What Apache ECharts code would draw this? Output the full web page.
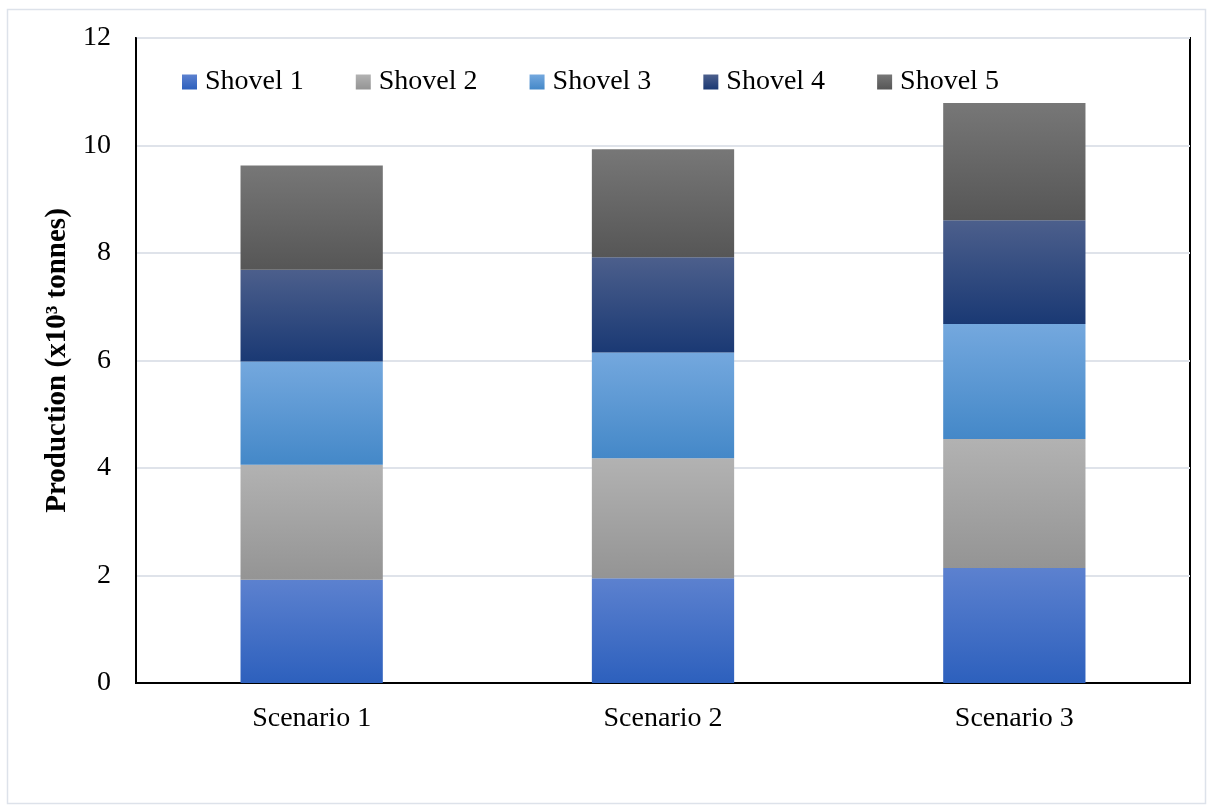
<!DOCTYPE html>
<html>
<head>
<meta charset="utf-8">
<script src="https://cdn.jsdelivr.net/npm/echarts@6/dist/echarts.min.js"></script>
<style>
  html, body { margin: 0; padding: 0; background: #fff; }
  #chart { width: 1212px; height: 810px; }
</style>
</head>
<body>
<div id="chart"></div>
<script>
// Production per shovel (x10^3 tonnes) for each scenario
const scenarios = ['Scenario 1', 'Scenario 2', 'Scenario 3'];
const shovel1 = [1.92, 1.95, 2.14];
const shovel2 = [2.14, 2.23, 2.40];
const shovel3 = [1.92, 1.97, 2.14];
const shovel4 = [1.71, 1.77, 1.93];
const shovel5 = [1.94, 2.01, 2.18];
const seriesNames = ['Shovel 1', 'Shovel 2', 'Shovel 3', 'Shovel 4', 'Shovel 5'];
const seriesValues = [shovel1, shovel2, shovel3, shovel4, shovel5];

// top -> bottom gradient stops per shovel
const fills = [
  ['#5c81cf', '#2d60bd'],
  ['#b2b2b2', '#949494'],
  ['#74a8de', '#4488c8'],
  ['#4c5f8c', '#1a3974'],
  ['#777777', '#565656']
];

const serif = '"Liberation Serif", "DejaVu Serif", serif';

function grad(c) {
  return {
    type: 'linear', x: 0, y: 0, x2: 0, y2: 1,
    colorStops: [{ offset: 0, color: c[0] }, { offset: 1, color: c[1] }]
  };
}

const chart = echarts.init(document.getElementById('chart'));
chart.setOption({
  backgroundColor: '#fff',
  animation: false,
  graphic: [{
    type: 'rect',
    shape: { x: 7.5, y: 9.5, width: 1198, height: 794 },
    style: { fill: 'none', stroke: '#dde2ea', lineWidth: 1.5 },
    z: -1
  }],
  grid: {
    left: 136, right: 22, top: 38, bottom: 127,
    show: true, borderColor: '#000', borderWidth: 2, backgroundColor: 'transparent'
  },
  legend: {
    left: 182, top: 68, padding: 0,
    itemWidth: 15, itemHeight: 15, itemGap: 52,
    icon: 'rect',
    textStyle: { fontFamily: serif, fontSize: 28, color: '#000', padding: [0, 0, 0, 3] },
    data: seriesNames
  },
  xAxis: {
    type: 'category',
    data: scenarios,
    axisLine: { lineStyle: { color: '#000', width: 2 } },
    axisTick: { show: false },
    axisLabel: { fontFamily: serif, fontSize: 28, color: '#000', margin: 22 }
  },
  yAxis: {
    type: 'value',
    min: 0, max: 12, interval: 2,
    name: 'Production (x10³ tonnes)',
    nameLocation: 'middle',
    nameGap: 55,
    nameTextStyle: { fontFamily: serif, fontSize: 29, fontWeight: 'bold', color: '#000' },
    axisLine: { show: true, lineStyle: { color: '#000', width: 2 } },
    axisTick: { show: false },
    axisLabel: { fontFamily: serif, fontSize: 28, color: '#000', margin: 25 },
    splitLine: { lineStyle: { color: '#dfe3ea', width: 2 } }
  },
  series: seriesNames.map((name, i) => ({
    name: name,
    type: 'bar',
    stack: 'total',
    barWidth: '40.5%',
    data: seriesValues[i],
    itemStyle: { color: grad(fills[i]) }
  }))
});
</script>
</body>
</html>
